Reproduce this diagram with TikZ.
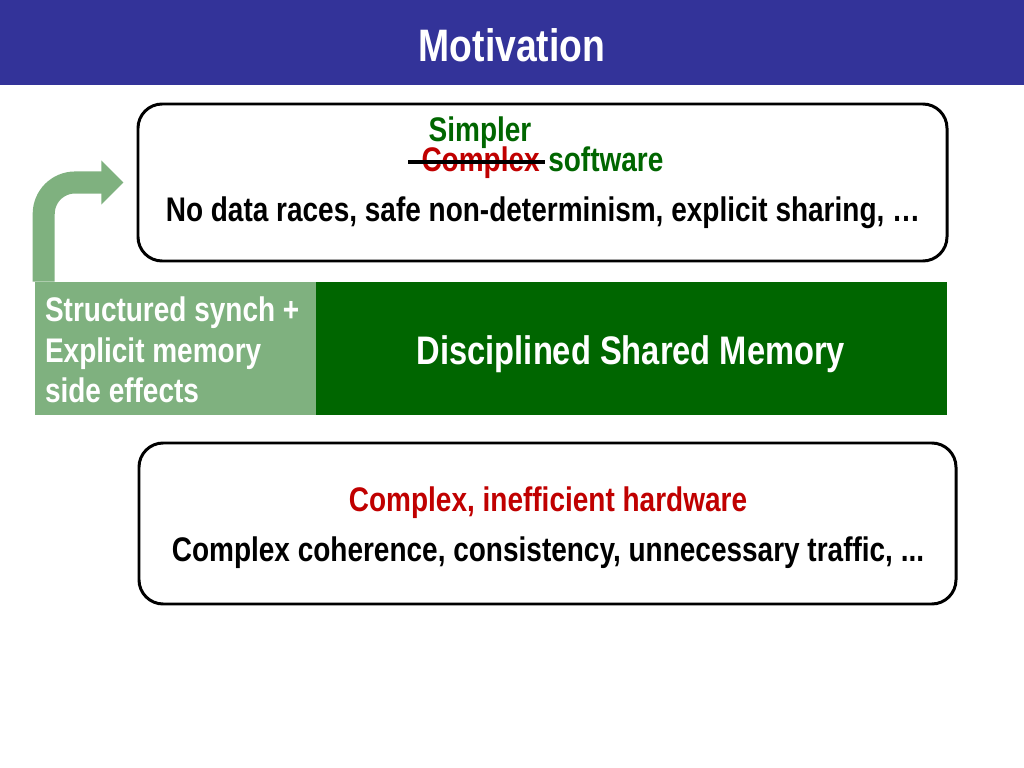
\documentclass[tikz,border=0pt]{standalone}
\usepackage{fontspec}
\setmainfont{Liberation Sans}[FakeStretch=0.82]
\usepackage{tikz}
\usetikzlibrary{arrows.meta,positioning,fit,calc}
\definecolor{MotBlue}{HTML}{333399}
\definecolor{MotGreen}{HTML}{006600}
\definecolor{MotLeaf}{HTML}{7FB17F}
\definecolor{MotRed}{HTML}{C00000}
\definecolor{MotInk}{HTML}{000000}
\tikzset{
  figlabel/.style={font=\bfseries\fontsize{24}{27}\selectfont, text=MotInk},
  figtitle/.style={font=\bfseries\fontsize{32}{36}\selectfont, text=white},
  figbig/.style={font=\bfseries\fontsize{28}{32}\selectfont, text=white},
  figbox/.style={draw=MotInk, line width=2.1pt, rounded corners=17pt, fill=white, inner sep=0pt},
  darkbox/.style={fill=MotGreen, inner sep=0pt},
  leafbox/.style={fill=MotLeaf, inner sep=0pt},
  figflow/.style={-{Triangle[length=15.5pt,width=30pt]}, line width=15.5pt, draw=MotLeaf, rounded corners=22pt}
}

\begin{document}
\begin{tikzpicture}[x=0.703125pt, y=-0.703125pt, every node/.style={figlabel}]
\useasboundingbox (0,0) rectangle (1024,768);
\fill[MotBlue] (0,0) rectangle (1024,85);
\node[figtitle] (title) at (512,45) {Motivation};
% software box
\node[figbox, fit={(138,104) (947,261)}] (sw) {};
\node[text=MotGreen, anchor=base] (simpler) at (480,142) {Simpler};
\node[text=MotRed, anchor=base east, inner sep=0pt] (cplx) at (540,172) {Complex};
\node[text=MotGreen, anchor=base west, inner sep=0pt] (soft) at (548,172) {software};
\draw[line width=2.3pt] ($(cplx.base west)+(-13,-10)$) -- ($(cplx.base east)+(5,-10)$);
\node (swnote) at (543,213) {No data races, safe non-determinism, explicit sharing, \dots};
% middle band
\node[leafbox, fit={(35,282) (316,415)}] (sync) {};
\node[darkbox, fit={(316,282) (947,415)}] (dsm) {};
\node[text=white, anchor=west, align=left, font=\bfseries\fontsize{24}{28.5}\selectfont] (synctext) at (40,350) {Structured synch +\\Explicit memory\\side effects};
\node[figbig] (dsmtext) at (631,354) {Disciplined Shared Memory};
\draw[figflow] ($(sync.north west)+(9,0)$) |- ($(sw.west)+(-13,0)$);
% hardware box
\node[figbox, fit={(139,443) (956,604)}] (hw) {};
\node[text=MotRed] (hwtitle) at (548,503) {Complex, inefficient hardware};
\node (hwnote) at (548,553) {Complex coherence, consistency, unnecessary traffic, ...};
\end{tikzpicture}
\end{document}
